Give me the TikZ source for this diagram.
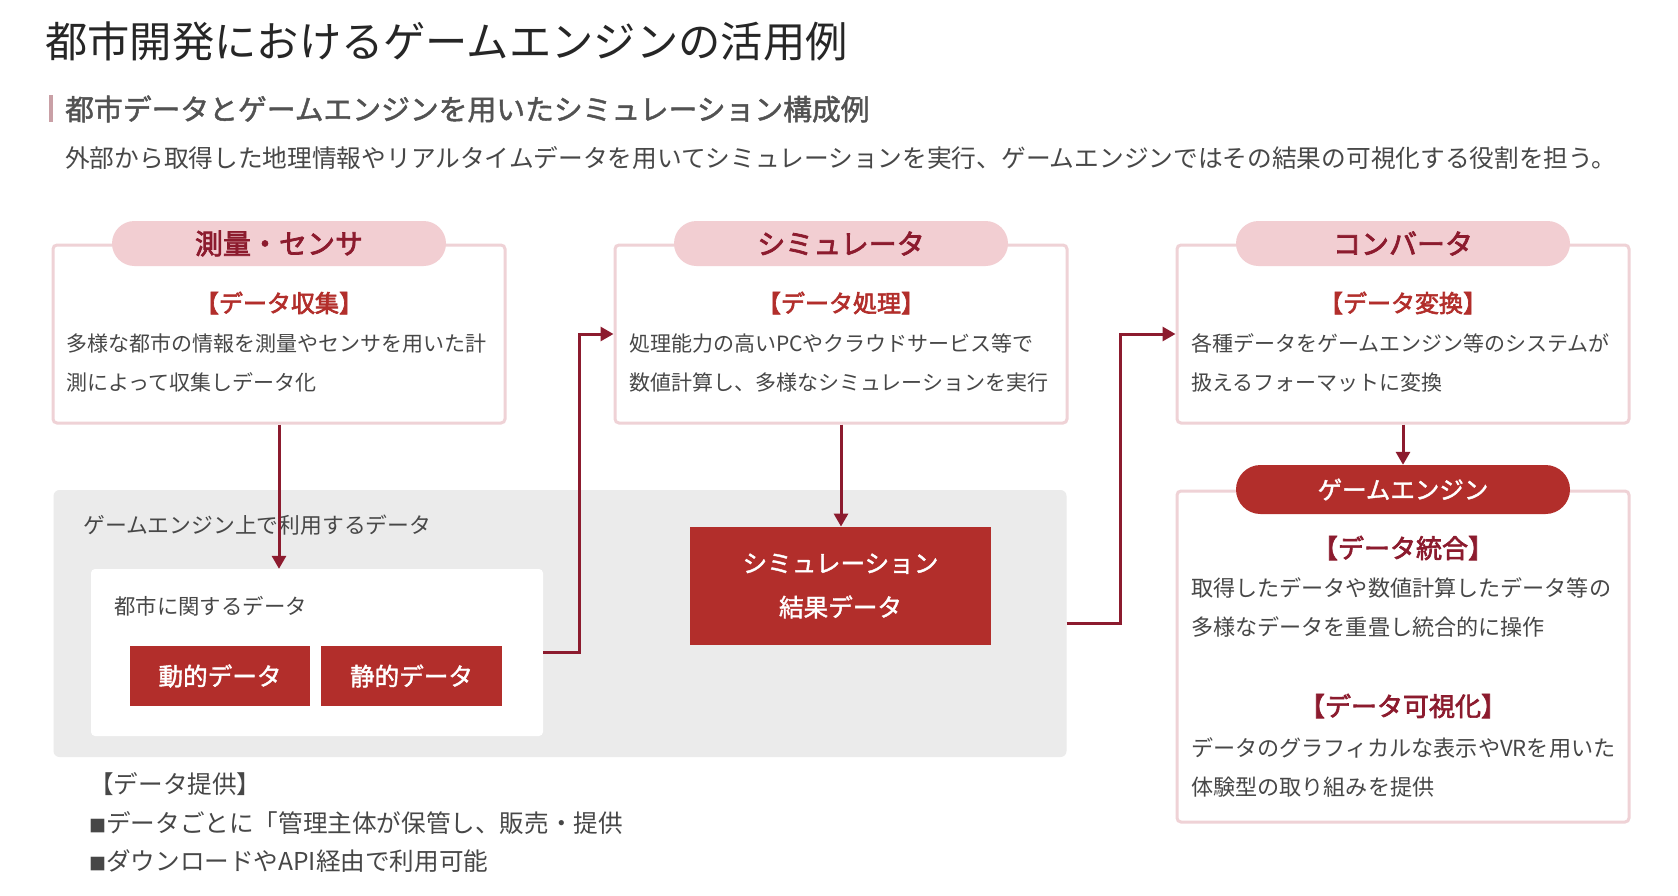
\documentclass[tikz,border=0pt]{standalone}
\usepackage{fontspec}
\setmainfont{Noto Sans CJK JP}
\newfontfamily\midfont[FakeBold=1.6]{Noto Sans CJK JP}
\newfontfamily\heavyfont[FakeBold=2.6]{Noto Sans CJK JP}
\usepackage{xcolor}
\usepackage{tikz}
\usetikzlibrary{arrows.meta,positioning,calc,shapes.misc}
\definecolor{cityRed}{HTML}{B22E2B}
\definecolor{cityWine}{HTML}{8C1B2E}
\definecolor{cityPink}{HTML}{F2CED2}
\definecolor{cityRim}{HTML}{EFD2D6}
\definecolor{cityGrey}{HTML}{EBEBEB}
\definecolor{cityInk}{HTML}{474747}
\definecolor{cityBar}{HTML}{C9A0A6}
\newcommand{\fs}[2]{\fontsize{#1}{#2}\selectfont}
\newcommand{\sq}{{\fs{17}{17}■}}

\begin{document}
\begin{tikzpicture}[x=1pt, y=-1pt, >={Triangle[width=14pt,length=13pt]},
  panel/.style={draw=cityRim, line width=3pt, fill=white, rounded corners=4pt,
    minimum width=452pt, minimum height=178pt, inner sep=0pt},
  pill/.style={rounded rectangle, fill=cityPink, text=cityWine, minimum width=334pt,
    minimum height=45pt, inner sep=0pt, font=\fs{28}{32}\heavyfont},
  head/.style={text=cityRed, font=\fs{24}{28}\heavyfont, inner sep=0pt},
  body/.style={text=cityInk, font=\fs{21}{38.5}, align=left, anchor=west, inner sep=0pt},
  redbox/.style={fill=cityRed, text=white, inner sep=0pt, font=\fs{24.6}{44}\midfont, align=center},
  flow/.style={->, draw=cityWine, line width=3pt}]
\useasboundingbox[fill=white] (0,0) rectangle (1678,895);
% ---------- heading ----------
\node[anchor=west, inner sep=0pt, text=black!85, font=\fs{42.3}{50}] (title) at (45,41)
  {都市開発におけるゲームエンジンの活用例};
\fill[cityBar] (49,95) rectangle (53,122);
\node[anchor=west, inner sep=0pt, text=black!68, font=\fs{28.8}{36}\midfont] (subtitle) at (65,109)
  {都市データとゲームエンジンを用いたシミュレーション構成例};
\node[anchor=west, inner sep=0pt, text=cityInk, font=\fs{24.7}{30}] (lead) at (65,158)
  {外部から取得した地理情報やリアルタイムデータを用いてシミュレーションを実行、ゲームエンジンではその結果の可視化する役割を担う。};

% ---------- data used on the engine ----------
\node[fill=cityGrey, rounded corners=6pt, minimum width=1013pt, minimum height=267pt, inner sep=0pt]
  (gamedata) at (560,623.5) {};
\node[body, font=\fs{21.8}{26}] (gamelabel) at (83,525.5) {ゲームエンジン上で利用するデータ};
\node[fill=white, rounded corners=4pt, minimum width=452pt, minimum height=167pt, inner sep=0pt]
  (citybox) at (317,652.5) {};
\node[body, font=\fs{21.4}{26}] (citylabel) at (114,606) {都市に関するデータ};
\node[redbox, minimum width=180.5pt, minimum height=60pt] (dynamic) at (220,676) {動的データ};
\node[redbox, minimum width=180.5pt, minimum height=60pt] (static) at (411.5,676) {静的データ};
\node[redbox, minimum width=301pt, minimum height=118.5pt] (result) at (840.5,586)
  {シミュレーション\\結果データ};

% ---------- three stages ----------
\node[panel] (sensor) at (279,334) {};
\node[pill] (sensortag) at (sensor.north) {測量・センサ};
\node[head] (collect) at (279,303) {【データ収集】};
\node[body] (collecttxt) at (66,363) {多様な都市の情報を測量やセンサを用いた計\\測によって収集しデータ化};

\node[panel] (simulator) at (841,334) {};
\node[pill] (simtag) at (simulator.north) {シミュレータ};
\node[head] (process) at (841,303) {【データ処理】};
\node[body] (processtxt) at (629,363) {処理能力の高いPCやクラウドサービス等で\\数値計算し、多様なシミュレーションを実行};

\node[panel] (converter) at (1403,334) {};
\node[pill] (convtag) at (converter.north) {コンバータ};
\node[head] (convert) at (1403,303) {【データ変換】};
\node[body] (converttxt) at (1191,363) {各種データをゲームエンジン等のシステムが\\扱えるフォーマットに変換};

% ---------- game engine ----------
\node[panel, minimum height=331pt] (engine) at (1403,656.5) {};
\node[pill, fill=cityRed, text=white, minimum height=49pt, font=\fs{24.5}{30}\midfont] (enginetag) at (engine.north) {ゲームエンジン};
\node[head, text=cityWine, font=\fs{26}{30}\heavyfont] (merge) at (1403,548) {【データ統合】};
\node[body, font=\fs{22.1}{39}] (mergetxt) at (1191,608) {取得したデータや数値計算したデータ等の\\多様なデータを重畳し統合的に操作};
\node[head, text=cityWine, font=\fs{26}{30}\heavyfont] (visual) at (1403,706) {【データ可視化】};
\node[body, font=\fs{22.1}{39}] (visualtxt) at (1191,767) {データのグラフィカルな表示やVRを用いた\\体験型の取り組みを提供};

% ---------- supply note ----------
\node[body, font=\fs{24.6}{38.5}] (supply) at (89,823)
  {【データ提供】\\\sq データごとに「管理主体が保管し、販売・提供\\\sq ダウンロードやAPI経由で利用可能};

% ---------- connectors ----------
\draw[flow] (sensor.south) -- (sensor.south |- citybox.north);
\draw[flow] (citybox.east) -- ++(36,0) |- (simulator.west);
\draw[flow] (simulator.south) -- (simulator.south |- result.north);
\draw[flow] (gamedata.east) -- ++(54,0) |- (converter.west);
\draw[flow] (converter.south) -- (enginetag.north);
\end{tikzpicture}
\end{document}
